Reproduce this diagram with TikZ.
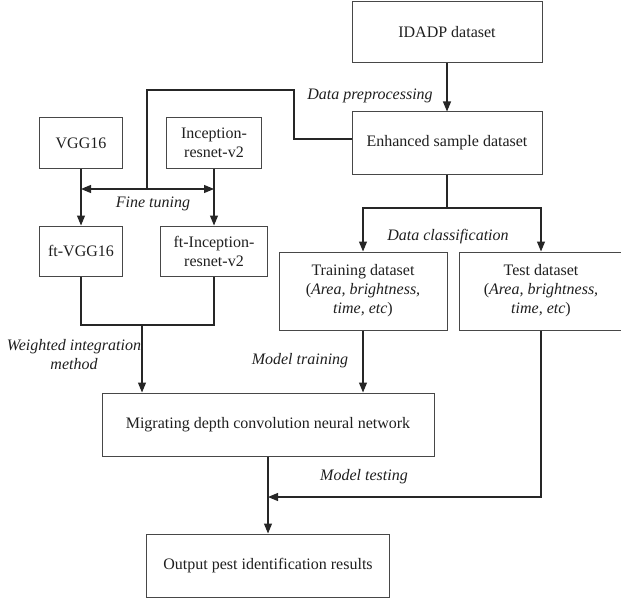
\documentclass[tikz,border=0pt]{standalone}
\usepackage{fontspec}
\setmainfont{Liberation Serif}
\usetikzlibrary{arrows.meta}
\begin{document}
\begin{tikzpicture}[x=1pt,y=-1pt,
  box/.style={draw=black!72,line width=1pt,inner sep=0pt,align=center,
    font=\fontsize{16}{19}\selectfont,text=black!88},
  lab/.style={font=\fontsize{16}{19}\selectfont\itshape,text=black!88,align=center,inner sep=0pt},
  ln/.style={draw=black!85,line width=1.1pt},
  arr/.style={ln,-{Triangle[length=10pt,width=8pt]}},
  darr/.style={ln,{Triangle[length=10pt,width=8pt]}-{Triangle[length=10pt,width=8pt]}}]
\useasboundingbox (0,0) rectangle (621,599);
% boxes
\node[box,minimum width=190pt,minimum height=61pt] (idadp) at (447,32.5) {IDADP dataset};
\node[box,minimum width=190pt,minimum height=62pt] (enh) at (447,143) {Enhanced sample dataset};
\node[box,minimum width=83pt,minimum height=50pt] (vgg) at (81,143) {VGG16};
\node[box,minimum width=95pt,minimum height=50pt] (inc) at (214,143) {Inception-\\resnet-v2};
\node[box,minimum width=83pt,minimum height=50pt] (ftvgg) at (81,251) {ft-VGG16};
\node[box,minimum width=107pt,minimum height=50pt] (ftinc) at (214,251) {ft-Inception-\\resnet-v2};
\node[box,minimum width=168pt,minimum height=78pt] (train) at (363,291) {Training dataset\\(\textit{Area, brightness,}\\\textit{time, etc})};
\node[box,minimum width=164pt,minimum height=78pt] (test) at (541,291) {Test dataset\\(\textit{Area, brightness,}\\\textit{time, etc})};
\node[box,minimum width=332pt,minimum height=63pt] (mig) at (268,424.5) {Migrating depth convolution neural network};
\node[box,minimum width=243pt,minimum height=63pt] (out) at (268,565.5) {Output pest identification results};
% coordinates
\coordinate (ft) at (147,189);
\coordinate (wj) at (142,325);
\coordinate (sp) at (447,208);
\coordinate (mt) at (268,497);
% connectors
\draw[arr] (idadp.south) -- (enh.north);
\draw[ln] ([yshift=4pt]enh.west) -- (294,139) -- (294,90) -- (147,90) -- (ft);
\draw[arr] (vgg.south) -- (ftvgg.north);
\draw[arr] (inc.south) -- (ftinc.north);
\draw[darr] (vgg.south |- ft) -- (inc.south |- ft);
\draw[ln] (ftvgg.south) |- (wj) -| (ftinc.south);
\draw[arr] (wj) -- (wj |- mig.north);
\draw[ln] (enh.south) -- (sp);
\draw[arr] (sp) -| (train.north);
\draw[arr] (sp) -| (test.north);
\draw[arr] (train.south) -- (train.south |- mig.north);
\draw[arr] (mig.south) -- (out.north);
\draw[arr] (test.south) |- (mt);
% labels
\node[lab] (l1) at (370,96) {Data preprocessing};
\node[lab] (l2) at (153,204) {Fine tuning};
\node[lab] (l3) at (448,237) {Data classification};
\node[lab] (l4) at (74,355) {Weighted integration\\method};
\node[lab] (l5) at (300,361) {Model training};
\node[lab] (l6) at (364,477) {Model testing};
\end{tikzpicture}
\end{document}
